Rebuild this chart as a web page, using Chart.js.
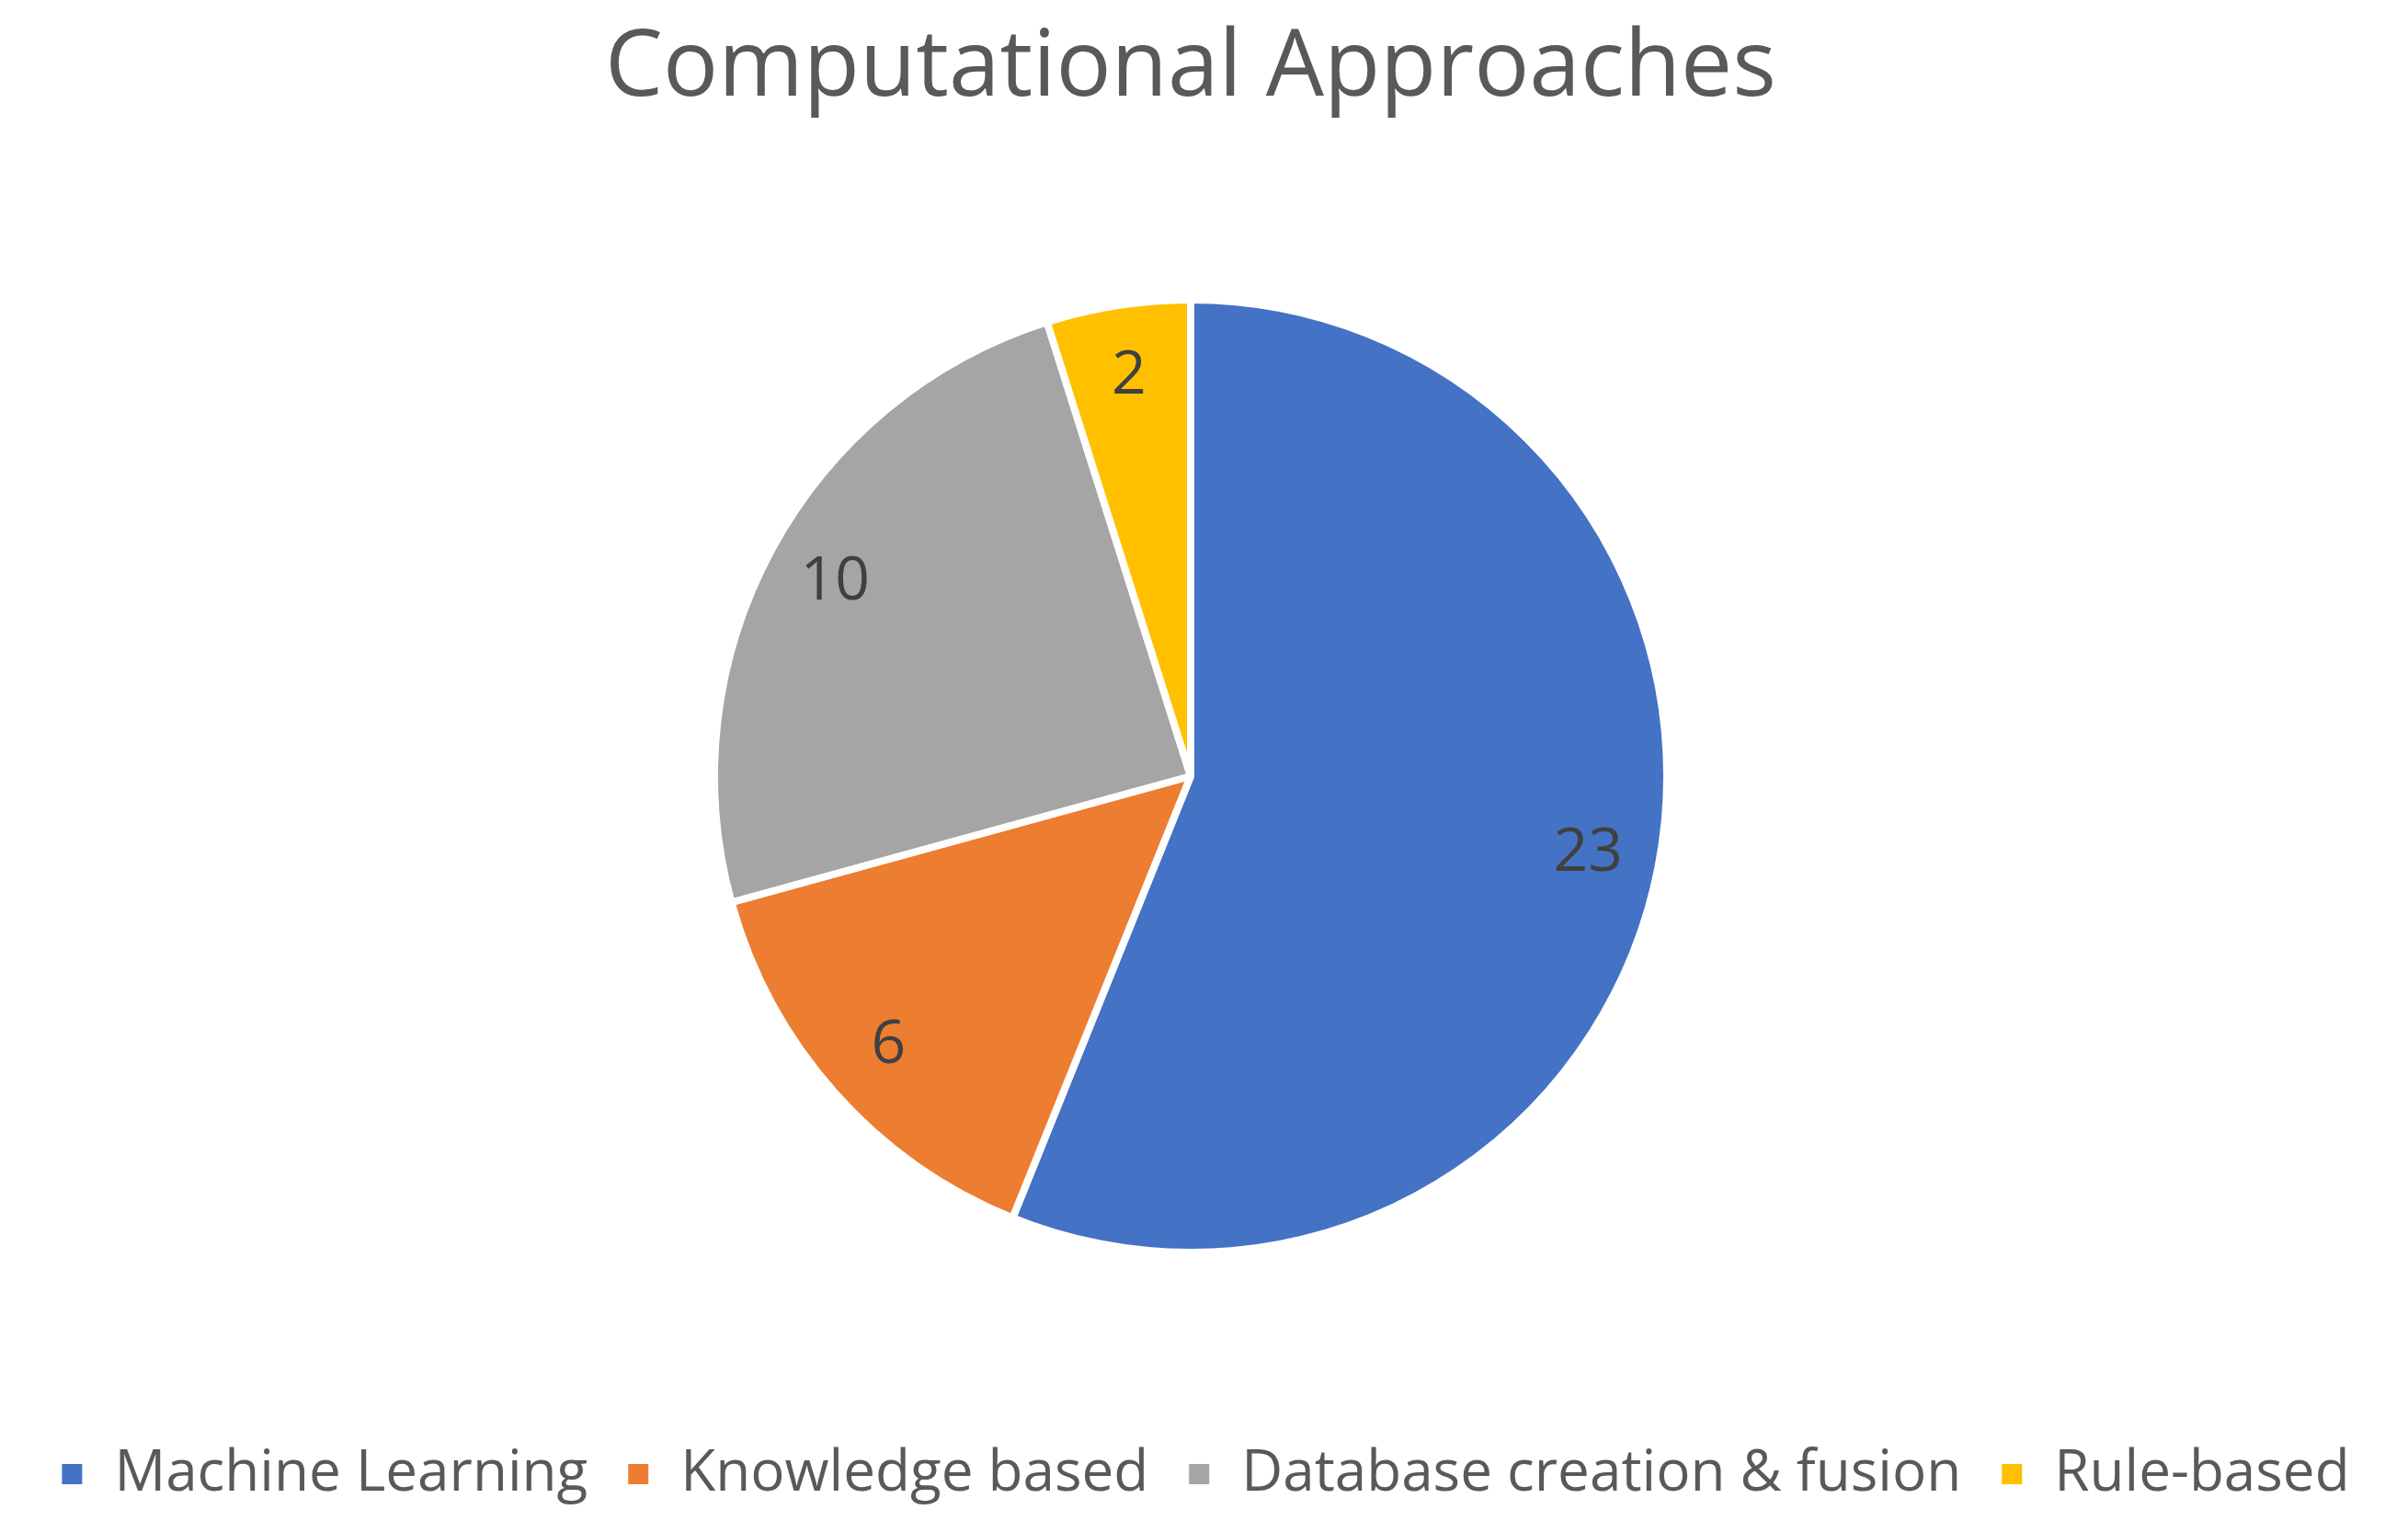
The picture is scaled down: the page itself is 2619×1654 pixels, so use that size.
<!DOCTYPE html>
<html>
<head>
<meta charset="utf-8">
<script src="https://cdn.jsdelivr.net/npm/chart.js@4/dist/chart.umd.min.js"></script>
<style>
html,body{margin:0;padding:0;background:#fff;}
#wrap{width:2619px;height:1654px;position:relative;}
</style>
</head>
<body>
<div id="wrap"><canvas id="c" width="2619" height="1654"></canvas></div>
<script>
const categories = ["Machine Learning", "Knowledge based", "Database creation & fusion", "Rule-based"];
const values = [23, 6, 10, 2];
const colors = ["#4472C4", "#ED7D31", "#A5A5A5", "#FFC000"];
const titleText = "Computational Approaches";

const labelPlugin = {
  id: 'sliceLabels',
  afterDatasetsDraw(chart) {
    const ctx = chart.ctx;
    const meta = chart.getDatasetMeta(0);
    ctx.save();
    ctx.font = '66px "Open Sans"';
    ctx.fillStyle = '#404040';
    ctx.textAlign = 'center';
    ctx.textBaseline = 'middle';
    meta.data.forEach((arc, i) => {
      const p = arc.getProps(['x','y','startAngle','endAngle','outerRadius'], true);
      const mid = (p.startAngle + p.endAngle) / 2;
      const r = p.outerRadius * 0.85;
      ctx.fillText(String(values[i]), p.x + Math.cos(mid) * r, p.y + Math.sin(mid) * r);
    });
    ctx.restore();
  }
};

// shift the pie and title slightly left (the original is not centred on the canvas)
const shiftPlugin = {
  id: 'shiftLeft',
  afterLayout(chart) {
    const s = 29;
    chart.chartArea.right -= s;
    chart.chartArea.width -= s;
    if (chart.titleBlock) {
      chart.titleBlock.right -= s;
      chart.titleBlock.width -= s;
    }
  }
};

new Chart(document.getElementById('c'), {
  type: 'pie',
  data: {
    labels: categories,
    datasets: [{
      data: values,
      backgroundColor: colors,
      borderColor: '#ffffff',
      borderWidth: 8
    }]
  },
  options: {
    responsive: false,
    animation: false,
    radius: 518,
    layout: { padding: { left: 0, right: 0, top: 0, bottom: 10 } },
    plugins: {
      title: {
        display: true,
        text: titleText,
        color: '#595959',
        font: { family: 'Open Sans', size: 100, weight: 'normal' },
        padding: { top: 16, bottom: 20 }
      },
      legend: {
        position: 'bottom',
        labels: {
          color: '#595959',
          font: { family: 'Open Sans', size: 62 },
          boxWidth: 30,
          boxHeight: 30,
          padding: 40
        }
      },
      tooltip: { enabled: false }
    }
  },
  plugins: [shiftPlugin, labelPlugin]
});
</script>
</body>
</html>
